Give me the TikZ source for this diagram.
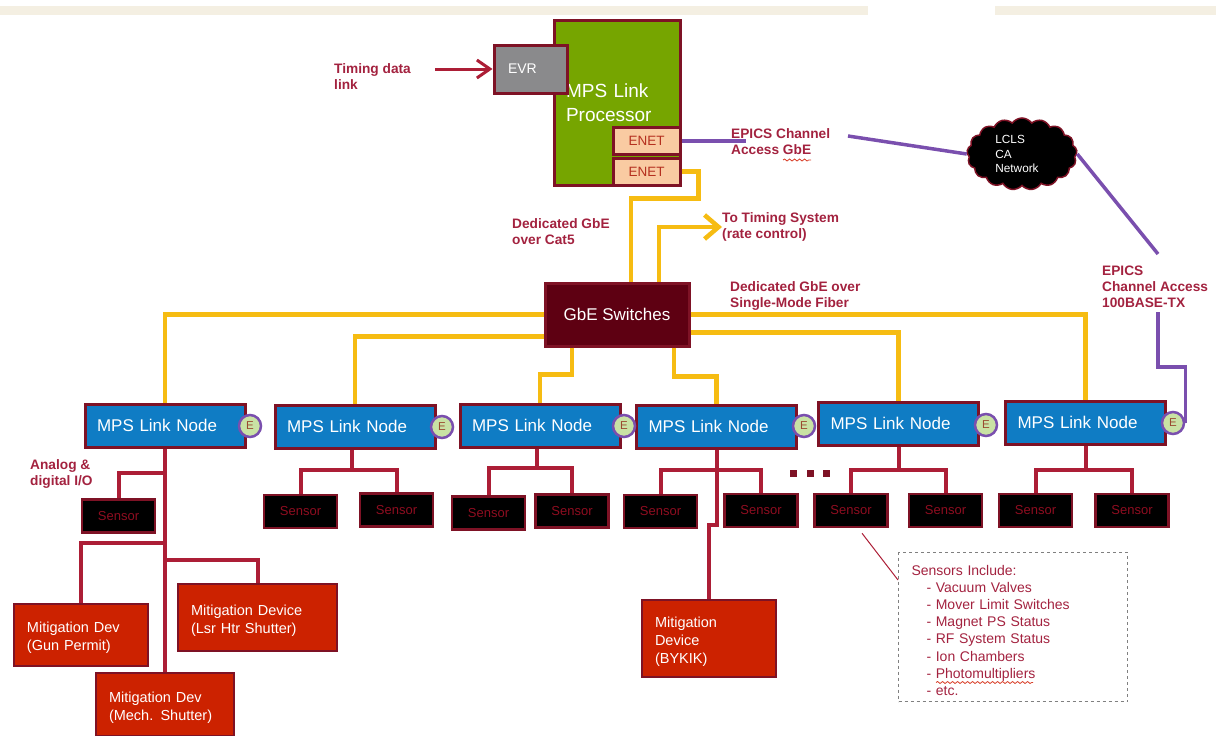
\documentclass[tikz,border=0pt]{standalone}
\usepackage{fontspec}
\setmainfont{Liberation Sans}
\usetikzlibrary{arrows.meta}
\usetikzlibrary{decorations.pathmorphing}
\usetikzlibrary{shapes}
\definecolor{bordercol}{HTML}{7E1225}
\definecolor{linkcol}{HTML}{AC1E36}
\definecolor{labelcol}{HTML}{A3223F}
\definecolor{gbecol}{HTML}{F6BC12}
\definecolor{cacol}{HTML}{7A4FAE}
\definecolor{bandcol}{HTML}{F4EFE2}
\definecolor{nodecol}{HTML}{0F7CC4}
\definecolor{portcol}{HTML}{C9E2A4}
\definecolor{porttext}{HTML}{9A4A30}
\definecolor{sensortext}{HTML}{8E0D20}
\definecolor{mitcol}{HTML}{CC2200}
\definecolor{enetcol}{HTML}{F9CBA2}
\definecolor{enettext}{HTML}{B5301F}
\definecolor{proccol}{HTML}{76A500}
\definecolor{evrcol}{HTML}{8A8A8C}
\definecolor{switchcol}{HTML}{5E0012}
\definecolor{squigcol}{HTML}{D8402A}
\newcommand{\lblfont}{\fontsize{13.7}{16}\selectfont\bfseries}
\newcommand{\nodefont}{\fontsize{17}{20}\selectfont}
\newcommand{\mitfont}{\fontsize{14.5}{18}\selectfont}
\tikzset{
	box/.style={draw=bordercol, line width=3pt},
	lbl/.style={anchor=west, align=left, inner sep=0pt, text=labelcol, font=\lblfont},
	linknode/.style={box, fill=nodecol, text=white, font=\nodefont, minimum width=160pt, minimum height=43pt, align=left, text width=136pt, inner xsep=12pt},
	port/.style={draw=cacol, line width=2.5pt, fill=portcol, circle, minimum size=22pt, inner sep=0pt, text=porttext, font=\fontsize{11.5}{12}\selectfont},
	sensorbox/.style={draw=bordercol, line width=2.5pt, fill=black, text=sensortext, font=\fontsize{13}{15}\selectfont, minimum width=73pt, minimum height=33pt, inner sep=0pt},
	mitbox/.style={draw=bordercol, line width=2pt, fill=mitcol, text=white, font=\mitfont, align=left, inner xsep=13pt, execute at begin node={\rule{0pt}{16pt}}},
	enetbox/.style={box, fill=enetcol, text=enettext, font=\fontsize{13.5}{16}\selectfont, minimum width=67pt, minimum height=27pt, inner sep=0pt},
	gbe/.style={draw=gbecol, line width=4.5pt},
	link/.style={draw=linkcol, line width=4pt},
	caline/.style={draw=cacol, line width=3.5pt},
	squiggle/.style={draw=squigcol, line width=0.8pt, decorate, decoration={snake, amplitude=1pt, segment length=5pt}},
}
\begin{document}
\begin{tikzpicture}[x=1pt, y=-1pt, >={Straight Barb[length=13pt,width=18pt]}]
		\useasboundingbox (0,0) rectangle (1216,736);
		\fill[bandcol] (0,6) rectangle (868,15);
		\fill[bandcol] (995,6) rectangle (1216,15);

		% processor and its parts
		\draw (617,102.5) node[box, fill=proccol, text=white, font=\fontsize{19}{24}\selectfont, minimum height=165pt, align=left, text width=102pt, inner xsep=12pt] (proc) {MPS Link\\Processor};
		\draw (530.5,69) node[box, fill=evrcol, text=white, font=\fontsize{14}{16}\selectfont, minimum height=48pt, align=left, text width=45pt, inner xsep=14pt] (evr) {EVR};
		\draw (646.5,141) node[enetbox] (enetA) {ENET};
		\draw (646.5,171.5) node[enetbox] (enetB) {ENET};
		\draw (617,314.5) node[box, fill=switchcol, text=white, font=\fontsize{17}{20}\selectfont, minimum width=144pt, minimum height=63pt, inner sep=0pt] (switch) {GbE Switches};
		\draw (1022,154) node[cloud, cloud puffs=17, cloud puff arc=110, aspect=1.5, draw=bordercol, line width=1.5pt, fill=black, text=white, font=\fontsize{11.8}{14.5}\selectfont, align=left, minimum width=110pt, minimum height=72pt, inner sep=0pt] (canet) {LCLS\\CA\\Network\hspace*{10pt}};

		% labels
		\draw (334,77) node[lbl] (timing) {Timing data\\link};
		\draw (731,142) node[lbl] (epicsA) {EPICS Channel\\Access GbE};
		\draw (512,232) node[lbl] (cat) {Dedicated GbE\\over Cat5};
		\draw (722,227) node[lbl] (torate) {To Timing System\\(rate control)};
		\draw (730,295.5) node[lbl] (fiber) {Dedicated GbE over\\Single-Mode Fiber};
		\draw (1102,287) node[lbl] (epicsB) {EPICS\\Channel Access\\100BASE-TX};
		\draw (30,474) node[lbl] (analog) {Analog \&\\digital I/O};

		% link nodes
		\draw (165,425.5) node[linknode] (nodeA) {MPS Link Node};
		\draw (355,426.5) node[linknode] (nodeB) {MPS Link Node};
		\draw (540,425.5) node[linknode] (nodeC) {MPS Link Node};
		\draw (716.5,426.5) node[linknode] (nodeD) {MPS Link Node};
		\draw (898.5,423.5) node[linknode] (nodeE) {MPS Link Node};
		\draw (1085.5,422.5) node[linknode] (nodeF) {MPS Link Node};
		\draw (250,426) node[port] (portA) {E};
		\draw (442,427) node[port] (portB) {E};
		\draw (624,426) node[port] (portC) {E};
		\draw (804,426) node[port] (portD) {E};
		\draw (986,425) node[port] (portE) {E};
		\draw (1173,423) node[port] (portF) {E};

		% sensors
		\draw (118.5,516) node[sensorbox] (sensorAa) {Sensor};
		\draw (300.5,511.5) node[sensorbox] (sensorBa) {Sensor};
		\draw (396.5,510) node[sensorbox] (sensorBb) {Sensor};
		\draw (488.5,513) node[sensorbox] (sensorCa) {Sensor};
		\draw (572,511) node[sensorbox] (sensorCb) {Sensor};
		\draw (660.5,511.5) node[sensorbox] (sensorDa) {Sensor};
		\draw (761,510.5) node[sensorbox] (sensorDb) {Sensor};
		\draw (851,510.5) node[sensorbox] (sensorEa) {Sensor};
		\draw (945.5,510.5) node[sensorbox] (sensorEb) {Sensor};
		\draw (1035.5,510.5) node[sensorbox] (sensorFa) {Sensor};
		\draw (1132,510.5) node[sensorbox] (sensorFb) {Sensor};

		% mitigation devices
		\draw (81,635) node[mitbox, minimum height=62pt, text width=108pt] (mitGun) {Mitigation Dev\\(Gun Permit)};
		\draw (257.5,617.5) node[mitbox, minimum height=67pt, text width=133pt] (mitLsr) {Mitigation Device\\(Lsr Htr Shutter)};
		\draw (165,704.5) node[mitbox, minimum height=63pt, text width=112pt] (mitMech) {Mitigation Dev\\(Mech. Shutter)};
		\draw (709,638.5) node[mitbox, minimum height=77pt, text width=108pt] (mitBykik) {Mitigation\\Device\\(BYKIK)};

		% note
		\draw (1013,627) node[draw=gray, dashed, line width=1pt, text=labelcol, font=\fontsize{14}{17.1}\selectfont, align=left, minimum height=149pt, text width=203pt, inner xsep=13pt] (note) {\rule{0pt}{17pt}Sensors Include:\\
			\hspace*{15pt}- Vacuum Valves\\
			\hspace*{15pt}- Mover Limit Switches\\
			\hspace*{15pt}- Magnet PS Status\\
			\hspace*{15pt}- RF System Status\\
			\hspace*{15pt}- Ion Chambers\\
			\hspace*{15pt}- Photomultipliers\\
			\hspace*{15pt}- etc.};

		% free ends of lines
		\coordinate (timingend) at (435,69);
		\coordinate (enetend) at (746,141);
		\coordinate (epicsAend) at (848,136);
		\coordinate (epicsBtop) at (1158,254);
		\coordinate (epicsBlow) at (1158,312);
		\coordinate (busA) at (165,473);
		\coordinate (tapGun) at (165,543);
		\coordinate (tapLsr) at (165,560);
		\coordinate (busB) at (352,470);
		\coordinate (busC) at (537,468);
		\coordinate (busD) at (716.5,470);
		\coordinate (busE) at (898.5,470);
		\coordinate (busF) at (1085.5,470);

		% the dots between the nodes
		\fill[bordercol] (790,470) rectangle ++(7,7);
		\fill[bordercol] (806.5,470) rectangle ++(7,7);
		\fill[bordercol] (823,470) rectangle ++(7,7);

		% timing and ethernet
		\draw[link, line width=3pt, ->] (timingend) -- (evr.west);
		\draw[caline] (enetA.east) -- (enetend);
		\draw[caline] (epicsAend) -- (canet.west);
		\draw[caline] (canet.east) -- (epicsBtop);
		\draw[caline] (epicsBlow) -- (1158,367) -| (portF.east);
		\draw[squiggle] (783,160) -- (811,160);
		\draw[squiggle] (936,682.5) -- (1033,682.5);
		\draw[draw=linkcol, line width=1pt] ([xshift=11pt,yshift=-5pt]sensorEa.south) -- ([yshift=47pt]note.west);

		% GbE
		\draw[gbe] (enetB.east) -- ++(17,0) -- ++(0,27) -| ([xshift=14pt]switch.north);
		\draw[gbe, -{Straight Barb[length=14pt,width=24pt]}] ([xshift=42pt]switch.north) |- (torate.west);
		\draw[gbe] (switch.west) -| (nodeA.north);
		\draw[gbe] ([yshift=-22pt]switch.west) -| (nodeB.north);
		\draw[gbe] ([xshift=-45pt]switch.south) -- ++(0,27) -| (nodeC.north);
		\draw[gbe] ([xshift=57pt]switch.south) -- ++(0,29) -| (nodeD.north);
		\draw[gbe] ([yshift=-18pt]switch.east) -| (nodeE.north);
		\draw[gbe] (switch.east) -| (nodeF.north);

		% sensor and device links
		\draw[link] (nodeA.south) -- (mitMech.north);
		\draw[link] (busA) -| (sensorAa.north);
		\draw[link] (tapGun) -| (mitGun.north);
		\draw[link] (tapLsr) -| (mitLsr.north);
		\draw[link] (busB |- nodeB.south) -- (busB) -| (sensorBa.north);
		\draw[link] (busB) -| (sensorBb.north);
		\draw[link] (busC |- nodeC.south) -- (busC) -| (sensorCa.north);
		\draw[link] (busC) -| (sensorCb.north);
		\draw[link] (nodeD.south) -- (busD) -| (sensorDa.north);
		\draw[link] (busD) -| (sensorDb.north);
		\draw[link] (busD) -- (716.5,525) -| (mitBykik.north);
		\draw[link] (nodeE.south) -- (busE) -| (sensorEa.north);
		\draw[link] (busE) -| (sensorEb.north);
		\draw[link] (nodeF.south) -- (busF) -| (sensorFa.north);
		\draw[link] (busF) -| (sensorFb.north);
	\end{tikzpicture}
\end{document}
